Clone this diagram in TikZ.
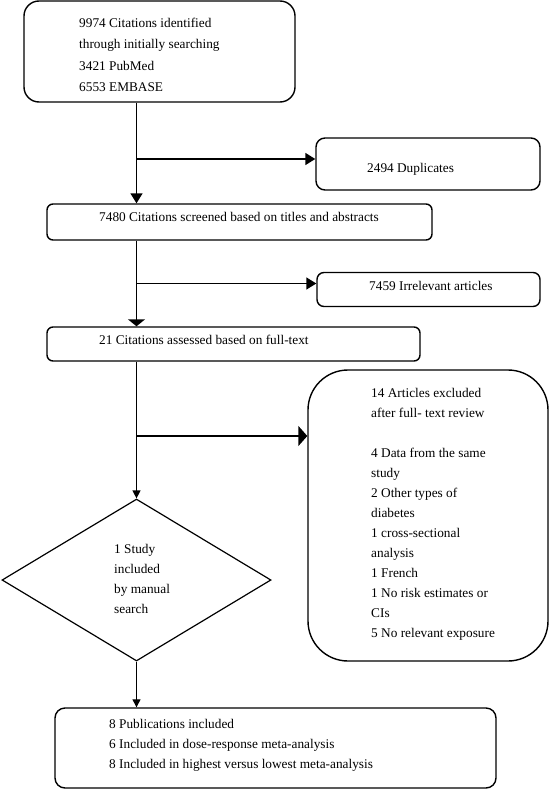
\documentclass[tikz,border=0pt]{standalone}
\usepackage{fontspec}
\setmainfont{Liberation Serif}
\usetikzlibrary{arrows.meta,shapes.geometric}
\begin{document}
\begin{tikzpicture}[x=1pt,y=-1pt,
  boxshape/.style={draw=black,line width=1.4pt,rectangle,inner sep=0pt},
  txt/.style={inner sep=0pt,anchor=north west,align=left,font=\fontsize{13.3}{20}\selectfont},
  conn/.style={line width=1.5pt},
  arrmain/.style={conn,-{Triangle[width=12pt,length=10pt]}},
  arrflat/.style={conn,-{Triangle[width=17pt,length=7pt]}},
  arrbig/.style={conn,-{Triangle[width=20pt,length=9pt]}},
  arrsmall/.style={line width=1.2pt,-{Triangle[width=8pt,length=8pt]}}]
\useasboundingbox (0,0) rectangle (550,789);
% boxes
\node[boxshape,rounded corners=15pt,minimum width=271pt,minimum height=101pt] (b1) at (159.5,51.5) {};
\node[boxshape,rounded corners=9pt,minimum width=224pt,minimum height=52pt] (dup) at (428,164) {};
\node[boxshape,rounded corners=6pt,minimum width=385pt,minimum height=36pt] (b2) at (239.5,222) {};
\node[boxshape,rounded corners=7pt,minimum width=223pt,minimum height=34pt] (irr) at (428.5,289.5) {};
\node[boxshape,rounded corners=6pt,minimum width=373pt,minimum height=34pt] (b3) at (233.5,344) {};
\node[boxshape,rounded corners=40pt,minimum width=240pt,minimum height=291pt] (b4) at (428,515.5) {};
\node[draw=black,line width=1.2pt,diamond,inner sep=0pt,minimum width=269pt,minimum height=162pt,aspect=1.66] (dia) at (136.5,580) {};
\node[boxshape,rounded corners=10pt,minimum width=441pt,minimum height=80pt] (b5) at (275.5,748) {};
% texts
\node[txt,font=\fontsize{13.3}{21.4}\selectfont] (t1) at (79,18) {9974 Citations identified\\through initially searching\\3421 PubMed\\6553 EMBASE};
\node[txt] (tdup) at (367,163) {2494 Duplicates};
\node[txt] (t2) at (99,212) {7480 Citations screened based on titles and abstracts};
\node[txt] (tirr) at (369,281) {7459 Irrelevant articles};
\node[txt] (t3) at (99,335) {21 Citations assessed based on full-text};
\node[txt] (t4) at (371,388) {14 Articles excluded\\after full- text review\\[20pt]4 Data from the same\\study\\2 Other types of\\diabetes\\1 cross-sectional\\analysis\\1 French\\1 No risk estimates or\\CIs\\5 No relevant exposure};
\node[txt] (tdia) at (114,544) {1 Study\\included\\by manual\\search};
\node[txt] (t5) at (109,719) {8 Publications included\\6 Included in dose-response meta-analysis\\8 Included in highest versus lowest meta-analysis};
% junction coordinates
\coordinate (j1) at ([yshift=5pt]dup.west -| dia.north);
\coordinate (j2) at ([yshift=6pt]irr.west -| dia.north);
\coordinate (j3) at (136,436);
% connectors
\draw[arrmain] (b1.south -| dia.north) -- (b2.north -| dia.north);
\draw[arrmain] (j1) -- ([yshift=5pt]dup.west);
\draw[arrflat] (b2.south -| dia.north) -- (b3.north -| dia.north);
\draw[arrmain] (j2) -- ([yshift=6pt]irr.west);
\draw[arrsmall] (b3.south -| dia.north) -- (dia.north);
\draw[arrbig] (j3) -- (j3 -| b4.west);
\draw[arrsmall] (dia.south) -- (b5.north -| dia.south);
\end{tikzpicture}
\end{document}
